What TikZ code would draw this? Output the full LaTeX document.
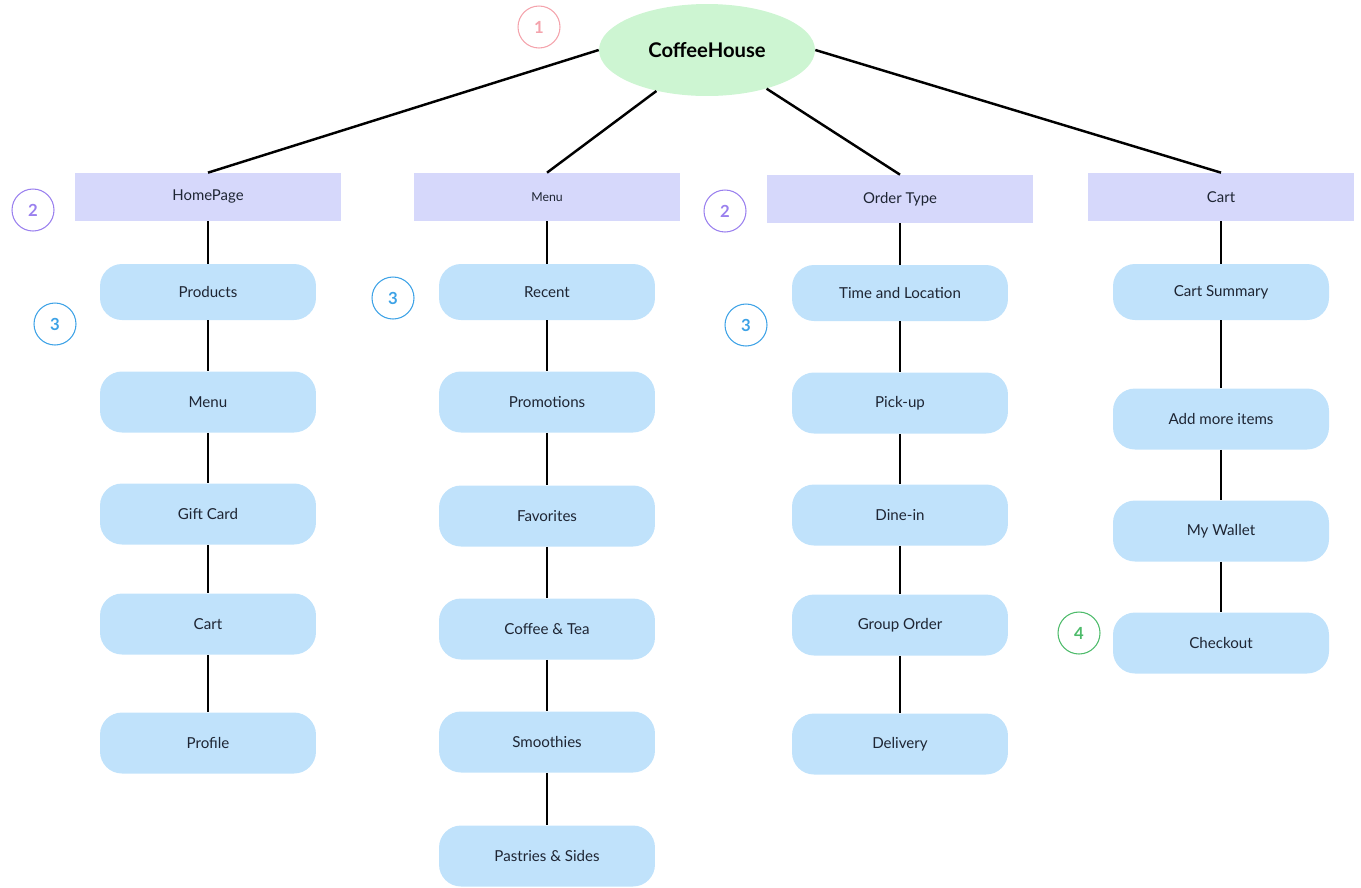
\documentclass[tikz,border=0pt]{standalone}
\usepackage{fontspec}
\setmainfont{Lato}
\usetikzlibrary{shapes.geometric}

\definecolor{rootgreen}{HTML}{CDF5D2}
\definecolor{pagelilac}{HTML}{D6D8FB}
\definecolor{itemblue}{HTML}{C0E2FB}
\definecolor{inkdark}{HTML}{1E2533}
\definecolor{badgepink}{HTML}{F4A3AC}
\definecolor{badgepurple}{HTML}{9A80EE}
\definecolor{badgeblue}{HTML}{3DA2E6}
\definecolor{badgegreen}{HTML}{4DBB6A}

\tikzset{
    root/.style={ellipse, fill=rootgreen, minimum width=4.32cm,
        minimum height=1.84cm, inner sep=0pt, text=black,
        font=\fontsize{11.5}{13}\selectfont\bfseries},
    page/.style={rectangle, fill=pagelilac, minimum width=5.32cm,
        minimum height=0.96cm, inner sep=0pt, text=inkdark,
        font=\fontsize{8.5}{10}\selectfont},
    item/.style={rectangle, rounded corners=0.44cm, fill=itemblue,
        minimum width=4.32cm, minimum height=1.22cm, inner sep=0pt,
        text=inkdark, font=\fontsize{8.6}{10}\selectfont},
    firstitem/.style={item, minimum height=1.12cm},
    badge/.style={circle, draw=#1, text=#1, line width=0.6pt,
        minimum size=0.84cm, inner sep=0pt,
        font=\fontsize{9.5}{11}\selectfont\bfseries},
    link/.style={line width=1.4pt, black}
}

\begin{document}
\begin{tikzpicture}[x=0.02cm,y=-0.02cm]
    \useasboundingbox (0,0) rectangle (1361,887);

    % level 1
    \node[root] (coffee) at (707,50) {CoffeeHouse};

    % level 2
    \node[page] (home)  at (208,197) {HomePage};
    \node[page, font=\fontsize{7}{9}\selectfont] (menu) at (547,197) {Menu};
    \node[page] (order) at (900,199) {Order Type};
    \node[page] (cart)  at (1221,197) {Cart};

    % level 3
    \foreach \n/\y/\t in {
        h2/402/Menu, h3/514/Gift Card, h4/624/Cart, h5/743/Profile} {
        \node[item] (\n) at (208,\y) {\t};
    }
    \node[firstitem] (h1) at (208,292) {Products};
    \foreach \n/\y/\t in {
        m2/402/Promotions, m3/516/Favorites,
        m4/629/{Coffee \& Tea}, m5/742/Smoothies,
        m6/856/{Pastries \& Sides}} {
        \node[item] (\n) at (547,\y) {\t};
    }
    \node[firstitem] (m1) at (547,292) {Recent};
    \foreach \n/\y/\t in {
        o2/403/Pick-up, o3/515/Dine-in,
        o4/625/Group Order, o5/744/Delivery} {
        \node[item] (\n) at (900,\y) {\t};
    }
    \node[firstitem] (o1) at (900,293) {Time and Location};
    \foreach \n/\y/\t in {
        c2/419/Add more items, c3/531/My Wallet, c4/643/Checkout} {
        \node[item] (\n) at (1221,\y) {\t};
    }
    \node[firstitem] (c1) at (1221,292) {Cart Summary};

    % badges
    \node[badge=badgepink]   (b1)  at (539,27)  {1};
    \node[badge=badgepurple] (b2a) at (33,210)  {2};
    \node[badge=badgepurple] (b2b) at (725,211) {2};
    \node[badge=badgeblue]   (b3a) at (55,324)  {3};
    \node[badge=badgeblue]   (b3b) at (393,298) {3};
    \node[badge=badgeblue]   (b3c) at (746,325) {3};
    \node[badge=badgegreen]  (b4)  at (1079,633) {4};

    % connectors
    \draw[link] (coffee.west) -- (home.north);
    \draw[link] (coffee.219) -- (menu.north);
    \draw[link] (coffee.327) -- (order.north);
    \draw[link] (coffee.east) -- (cart.north);
    \foreach \a/\b in {home/h1, h1/h2, h2/h3, h3/h4, h4/h5,
        menu/m1, m1/m2, m2/m3, m3/m4, m4/m5, m5/m6,
        order/o1, o1/o2, o2/o3, o3/o4, o4/o5,
        cart/c1, c1/c2, c2/c3, c3/c4} {
        \draw[link] (\a.south) -- (\b.north);
    }
\end{tikzpicture}
\end{document}
